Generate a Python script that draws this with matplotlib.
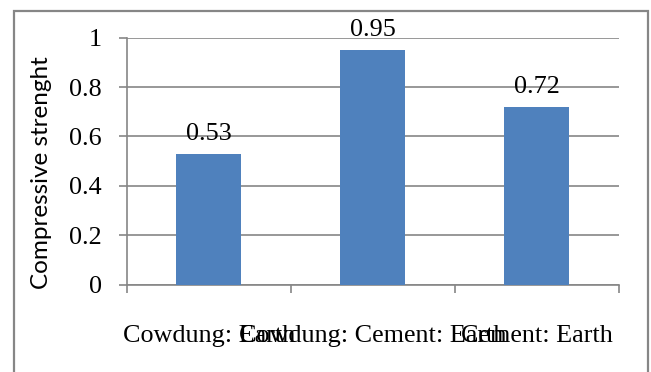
import matplotlib
matplotlib.use("Agg")
import matplotlib.pyplot as plt
from matplotlib.patches import Rectangle

categories = ["Cowdung: Earth", "Cowdung: Cement: Earth", "Cement: Earth"]
values = [0.53, 0.95, 0.72]
y_ticks = [0, 0.2, 0.4, 0.6, 0.8, 1]
y_tick_labels = ["0", "0.2", "0.4", "0.6", "0.8", "1"]
y_label = "Compressive strenght"

W, H = 651, 372
fig = plt.figure(figsize=(W / 100, H / 100), dpi=100)
fig.patch.set_facecolor("white")

grey = "#868686"
serif = "Liberation Serif"
fs = 18.8

# chart area outline
fig.add_artist(Rectangle((13.5 / W, -0.1), (648 - 13.5) / W, 1.1 - 10.5 / H,
                         transform=fig.transFigure, fill=False,
                         edgecolor=grey, linewidth=1.6))

left, right = 126.7, 618.5
y0, y1 = 284.5, 37.7
ax = fig.add_axes([left / W, (H - y0) / H, (right - left) / W, (y0 - y1) / H])

x = list(range(len(categories)))
ax.bar(x, values, width=0.4, color="#4F81BD", zorder=3)
ax.set_xlim(-0.5, len(categories) - 0.5)
ax.set_ylim(0, 1)

for xi, v in zip(x, values):
    ax.annotate(f"{v:.2f}", (xi, v), xytext=(0, 10), textcoords="offset points",
                ha="center", va="baseline", fontsize=fs, family=serif,
                annotation_clip=False)

ax.set_yticks(y_ticks)
ax.set_yticklabels(y_tick_labels, family=serif, fontsize=fs)
ax.yaxis.grid(True, color=grey, linewidth=1.2, zorder=0)
ax.set_axisbelow(True)

ax.set_xticks([i - 0.5 for i in range(len(categories) + 1)])
ax.set_xticklabels([])
ax.set_xticks(x, minor=True)
ax.set_xticklabels(categories, minor=True, family=serif, fontsize=fs)
ax.tick_params(axis="x", which="minor", length=0, pad=29)
ax.tick_params(axis="x", which="major", length=6, color=grey, width=1.2, direction="out")
ax.tick_params(axis="y", length=6, color=grey, width=1.2, pad=12)

for side in ("top", "right"):
    ax.spines[side].set_visible(False)
for side in ("left", "bottom"):
    ax.spines[side].set_color(grey)
    ax.spines[side].set_linewidth(1.2)

fig.text(42 / W, (H - 173) / H, y_label, rotation=90, ha="center", va="center",
         family="Lato", fontsize=17.5)

fig.savefig("out.png", dpi=100)
